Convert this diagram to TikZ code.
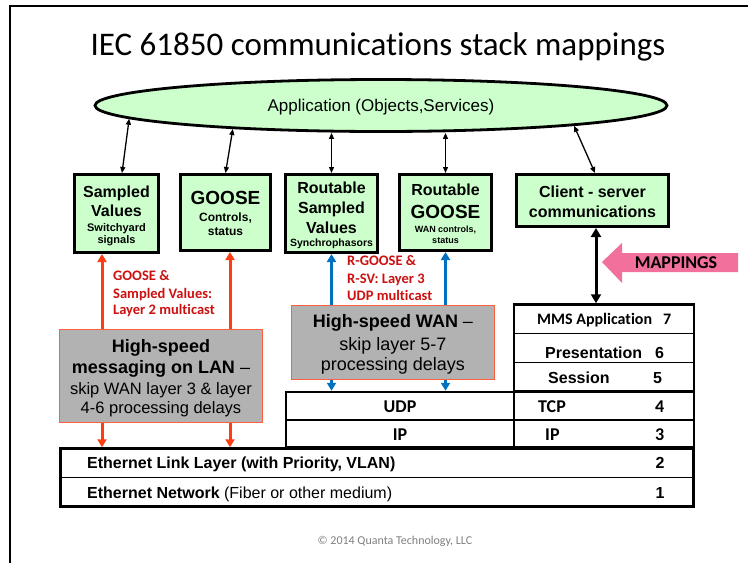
\documentclass[tikz,border=0pt]{standalone}
\usepackage{fontspec}
\setmainfont{Liberation Sans}
\newfontfamily\carl[Ligatures=NoCommon]{Carlito}
\usetikzlibrary{arrows.meta,shapes.geometric,calc}
\definecolor{boxgreen}{HTML}{CCFFCC}
\definecolor{lanred}{HTML}{FF3D14}
\definecolor{lanborder}{HTML}{FF6040}
\definecolor{wanblue}{HTML}{0070C0}
\definecolor{txtred}{HTML}{CC1111}
\definecolor{boxgray}{HTML}{B2B2B2}
\definecolor{mappink}{HTML}{F2709C}
\definecolor{copygray}{HTML}{808080}
\newcommand\fsz[1]{\fontsize{#1}{#1}\selectfont}
\begin{document}
\begin{tikzpicture}[x=1pt,y=-1pt,
  gbox/.style={draw, line width=3pt, fill=boxgreen, inner sep=0pt},
  graybox/.style={draw=lanborder, line width=1pt, fill=boxgray, inner sep=0pt},
  cellbox/.style={draw, line width=2.5pt, inner sep=0pt},
  txt/.style={anchor=base, inner sep=0pt},
  txtw/.style={anchor=base west, inner sep=0pt},
  bi/.style={{Triangle[length=6pt,width=5pt]}-{Triangle[length=6pt,width=5pt]}, line width=1.3pt},
  bigbi/.style={{Triangle[length=9pt,width=10pt]}-{Triangle[length=9pt,width=10pt]}, line width=3pt},
  redarr/.style={-{Triangle[length=8pt,width=9pt]}, line width=3pt, draw=lanred},
  bluearr/.style={-{Triangle[length=8pt,width=9pt]}, line width=3pt, draw=wanblue},
  redtxt/.style={txtw, text=txtred, font=\carl\bfseries\fsz{14.5}}
]
\useasboundingbox (0,0) rectangle (748,563);
\fill[white] (0,0) rectangle (748,563);
% frame
\draw[line width=2.5pt] (10,563) -- (10,6) -- (748,6);

% title
\node[txt] (title) at (378,55) {\carl\fsz{33}IEC 61850 communications stack mappings};

% application ellipse
\node[ellipse, draw, line width=2.8pt, fill=boxgreen, minimum width=572pt, minimum height=52pt, inner sep=0pt] (app) at (381,105.5) {};
\node[txt] (apptxt) at (381,111) {\fsz{17}Application (Objects,Services)};

% green boxes
\node[gbox, minimum width=84pt, minimum height=78pt] (sv) at (116.5,213.5) {};
\node[gbox, minimum width=90pt, minimum height=76pt] (goose) at (225.5,212.5) {};
\node[gbox, minimum width=92pt, minimum height=78pt] (rsv) at (331.5,213.5) {};
\node[gbox, minimum width=92pt, minimum height=76pt] (rgoose) at (445.5,212.5) {};
\node[gbox, minimum width=152pt, minimum height=52pt] (cs) at (592.5,200.5) {};

\node[txt] (sv1) at (116.5,197) {\bfseries\fsz{16}Sampled};
\node[txt] (sv2) at (116.5,216) {\bfseries\fsz{16}Values};
\node[txt] (sv3) at (116.5,231) {\bfseries\fsz{11}Switchyard};
\node[txt] (sv4) at (116.5,243) {\bfseries\fsz{11}signals};

\node[txt] (go1) at (225.5,204) {\bfseries\fsz{19}GOOSE};
\node[txt] (go2) at (225.5,221) {\bfseries\fsz{12}Controls,};
\node[txt] (go3) at (225.5,235) {\bfseries\fsz{12}status};

\node[txt] (rs1) at (331.5,193) {\bfseries\fsz{16}Routable};
\node[txt] (rs2) at (331.5,213) {\bfseries\fsz{16}Sampled};
\node[txt] (rs3) at (331.5,233) {\bfseries\fsz{16}Values};
\node[txt] (rs4) at (331.5,246) {\bfseries\fsz{10.5}Synchrophasors};

\node[txt] (rg1) at (445.5,195) {\bfseries\fsz{16}Routable};
\node[txt] (rg2) at (445.5,218) {\bfseries\fsz{19}GOOSE};
\node[txt] (rg3) at (445.5,232) {\bfseries\fsz{9}WAN controls,};
\node[txt] (rg4) at (445.5,243) {\bfseries\fsz{9}status};

\node[txt] (cs1) at (592.5,197) {\bfseries\fsz{16}Client - server};
\node[txt] (cs2) at (592.5,217) {\bfseries\fsz{16}communications};

% arrows from application
\draw[bi] (app.183.3) -- ($(sv.north)+(5.5,0)$);
\draw[bi] (app.189.1) -- (goose.north);
\draw[bi] (rsv.north |- app.south) -- (rsv.north);
\draw[bi] (rgoose.north |- app.south) -- (rgoose.north);
\draw[bi] (app.354.5) -- ($(cs.north)+(2.5,0)$);

% LAN box
\node[graybox, minimum width=203pt, minimum height=93pt] (lan) at (161,376) {};
\node[txt] (lan1) at (161,352) {\bfseries\fsz{18}High-speed};
\node[txt] (lan2) at (161,373) {\fsz{18}\textbf{messaging on LAN} –};
\node[txt] (lan3) at (161,394) {\fsz{16.5}skip WAN layer 3 \& layer};
\node[txt] (lan4) at (161,413) {\fsz{16.5}4-6 processing delays};

% WAN box
\node[graybox, minimum width=203pt, minimum height=74pt] (wan) at (393,342.5) {};
\node[txt] (wan1) at (393,327) {\fsz{18}\textbf{High-speed WAN} –};
\node[txt] (wan2) at (393,350) {\fsz{18}skip layer 5-7};
\node[txt] (wan3) at (393,370) {\fsz{18}processing delays};

% red texts
\node[redtxt] (rt1) at (113,280) {GOOSE \&};
\node[redtxt] (rt2) at (113,298) {Sampled Values:};
\node[redtxt] (rt3) at (113,314) {Layer 2 multicast};
\node[redtxt] (bt1) at (347,265) {R-GOOSE \&};
\node[redtxt] (bt2) at (347,283) {R-SV: Layer 3};
\node[redtxt] (bt3) at (347,300) {UDP multicast};

% OSI stack (right)
\node[cellbox, minimum width=180pt, minimum height=87pt] (osi) at (604,348) {};
\draw[line width=1pt] (osi.west |- 0,333) -- (osi.east |- 0,333);
\draw[line width=1pt] (osi.west |- 0,362) -- (osi.east |- 0,362);
\node[cellbox, minimum width=180pt, minimum height=28pt] (tcp) at (604,406) {};
\node[cellbox, minimum width=180pt, minimum height=27pt] (ipr) at (604,433.5) {};
\node[cellbox, minimum width=228pt, minimum height=28pt] (udp) at (400,406) {};
\node[cellbox, minimum width=228pt, minimum height=27pt] (ipl) at (400,433.5) {};

\node[txtw] (mms) at (537,324) {\carl\bfseries\fsz{16}MMS Application};
\node[txtw] (n7) at (663,324) {\carl\bfseries\fsz{16}7};
\node[txtw] (pres) at (545,358) {\bfseries\fsz{16}Presentation};
\node[txtw] (n6) at (655,358) {\bfseries\fsz{16}6};
\node[txtw] (sess) at (548,383) {\bfseries\fsz{16}Session};
\node[txtw] (n5) at (653,383) {\bfseries\fsz{16}5};
\node[txt] (udpt) at (400,412) {\carl\bfseries\fsz{18}UDP};
\node[txtw] (tcpt) at (538,412) {\carl\bfseries\fsz{18}TCP};
\node[txtw] (n4) at (655,412) {\carl\bfseries\fsz{18}4};
\node[txt] (iplt) at (400,440) {\carl\bfseries\fsz{18}IP};
\node[txtw] (iprt) at (545,440) {\carl\bfseries\fsz{18}IP};
\node[txtw] (n3) at (655,440) {\carl\bfseries\fsz{18}3};

% Ethernet box
\node[cellbox, minimum width=633pt, minimum height=58pt] (eth) at (377,477.5) {};
\draw[line width=1.5pt] (eth.west |- 0,477.5) -- (eth.east |- 0,477.5);
\node[txtw] (eth1) at (87,468) {\bfseries\fsz{16}Ethernet Link Layer (with Priority, VLAN)};
\node[txt] (n2) at (660,468) {\bfseries\fsz{16}2};
\node[txtw] (eth2) at (87,498) {\fsz{16}\textbf{Ethernet Network} (Fiber or other medium)};
\node[txt] (n1) at (660,498) {\bfseries\fsz{16}1};

% red arrows (LAN)
\coordinate (rx1) at (102,0);
\coordinate (rx2) at (230,0);
\draw[redarr] (lan.north -| rx1) -- (sv.south -| rx1);
\draw[redarr] (lan.north -| rx2) -- (goose.south -| rx2);
\draw[redarr] (lan.south -| rx1) -- (eth.north -| rx1);
\draw[redarr] (lan.south -| rx2) -- (eth.north -| rx2);

% blue arrows (WAN)
\draw[bluearr] (wan.north -| rsv.south) -- (rsv.south);
\draw[bluearr] (wan.north -| rgoose.south) -- (rgoose.south);
\draw[bluearr] (wan.south -| rsv.south) -- (udp.north -| rsv.south);
\draw[bluearr] (wan.south -| rgoose.south) -- (udp.north -| rgoose.south);

% client-server to stack
\coordinate (cx) at (596,0);
\draw[bigbi] (cs.south -| cx) -- (osi.north -| cx);

% MAPPINGS arrow
\fill[mappink] (602,262) -- (622,243) -- (622,253) -- (738,253) -- (738,272) -- (622,272) -- (622,283) -- cycle;
\node[txt] (map) at (676,268) {\carl\bfseries\fsz{18}MAPPINGS};

% copyright
\node[txt, text=copygray] (copy) at (395,544) {\carl\fsz{12}© 2014 Quanta Technology, LLC};
\end{tikzpicture}
\end{document}
